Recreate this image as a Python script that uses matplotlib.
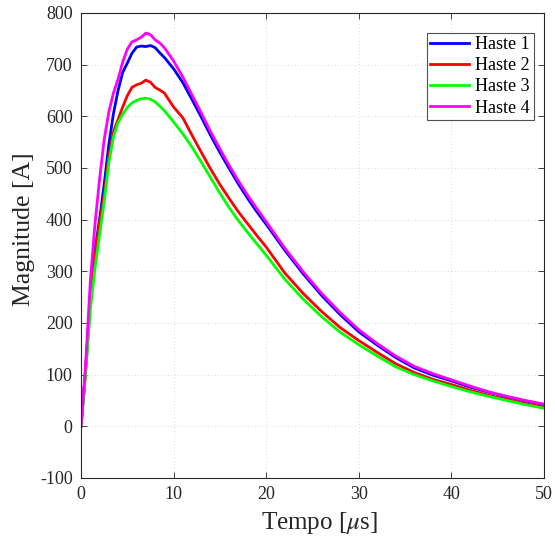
import matplotlib
matplotlib.use("Agg")
import matplotlib.pyplot as plt

plt.rcParams["font.family"] = ["Liberation Serif", "DejaVu Serif"]
plt.rcParams["mathtext.fontset"] = "stix"
plt.rcParams["axes.unicode_minus"] = False

# Time axis [us]
t = [0, 0.5, 1, 1.5, 2, 2.5, 3, 3.5, 4, 4.5, 5, 5.5, 6, 6.5, 7, 7.5, 8, 8.5, 9,
     10, 11, 12, 13, 14, 15, 16, 17, 18, 19, 20, 22, 24, 26, 28, 30, 32, 34,
     36, 38, 40, 42, 44, 46, 48, 50]

# Current magnitude [A] for each rod
haste1 = [0, 110, 250, 340, 400, 468, 545, 605, 650, 685, 703, 722, 734, 736,
          735, 737, 733, 723, 714, 692, 665, 632, 598, 563, 530, 499, 469, 441,
          415, 391, 341, 295, 253, 216, 183, 157, 133, 113, 99, 88, 76, 66, 57,
          49, 42]
haste2 = [0, 110, 245, 330, 395, 446, 522, 570, 594, 618, 640, 656, 661, 664,
          670, 666, 656, 651, 645, 618, 597, 563, 530, 498, 468, 441, 415, 392,
          369, 347, 297, 257, 222, 191, 166, 143, 121, 104, 91, 81, 70, 60, 52,
          44, 37]
haste3 = [0, 100, 225, 305, 370, 435, 510, 560, 588, 604, 617, 626, 631, 634,
          635, 633, 628, 620, 611, 589, 566, 540, 511, 481, 451, 423, 398, 375,
          353, 331, 285, 246, 212, 182, 158, 136, 115, 100, 88, 77, 67, 58, 50,
          42, 35]
haste4 = [0, 120, 280, 390, 478, 555, 608, 645, 672, 705, 730, 744, 748, 753,
          761, 758, 748, 742, 733, 707, 676, 641, 606, 570, 537, 505, 475, 447,
          421, 396, 345, 299, 257, 220, 187, 160, 136, 116, 102, 90, 78, 67, 58,
          50, 43]

labels = ["Haste 1", "Haste 2", "Haste 3", "Haste 4"]
colors = ["#0000ff", "#ff0000", "#00ff00", "#ff00ff"]
series = [haste1, haste2, haste3, haste4]

xticks = [0, 10, 20, 30, 40, 50]
yticks = [-100, 0, 100, 200, 300, 400, 500, 600, 700, 800]

fig = plt.figure(figsize=(5.55, 5.41), dpi=100)
ax = fig.add_axes([0.146, 0.1165, 0.834, 0.8595])

for y, c, lab in zip(series, colors, labels):
    ax.plot(t, y, color=c, lw=2, label=lab)

ax.set_xlim(0, 50)
ax.set_ylim(-100, 800)
ax.set_xticks(xticks)
ax.set_yticks(yticks)
ax.tick_params(direction="in", top=True, right=True, length=4, width=0.6,
               labelsize=13, colors="#262626", pad=6)
for sp in ax.spines.values():
    sp.set_color("#262626")
    sp.set_linewidth(0.8)
ax.grid(True, color="#cfcfcf", linestyle=(0, (1, 3)), linewidth=0.6)

ax.set_xlabel(r"Tempo [$\mu$s]", fontsize=18, color="#262626")
ax.set_ylabel("Magnitude [A]", fontsize=18.5, color="#262626")
ax.xaxis.set_label_coords(0.516, -0.069)
ax.yaxis.set_label_coords(-0.100, 0.535)

leg = ax.legend(loc="upper right", bbox_to_anchor=(0.978, 0.958),
                fontsize=13, frameon=True, fancybox=False, handlelength=2.15,
                handletextpad=0.35, borderpad=0.2, labelspacing=0.23,
                borderaxespad=0)
leg.get_frame().set_edgecolor("#262626")
leg.get_frame().set_linewidth(0.8)

fig.savefig("out.png", dpi=100)
